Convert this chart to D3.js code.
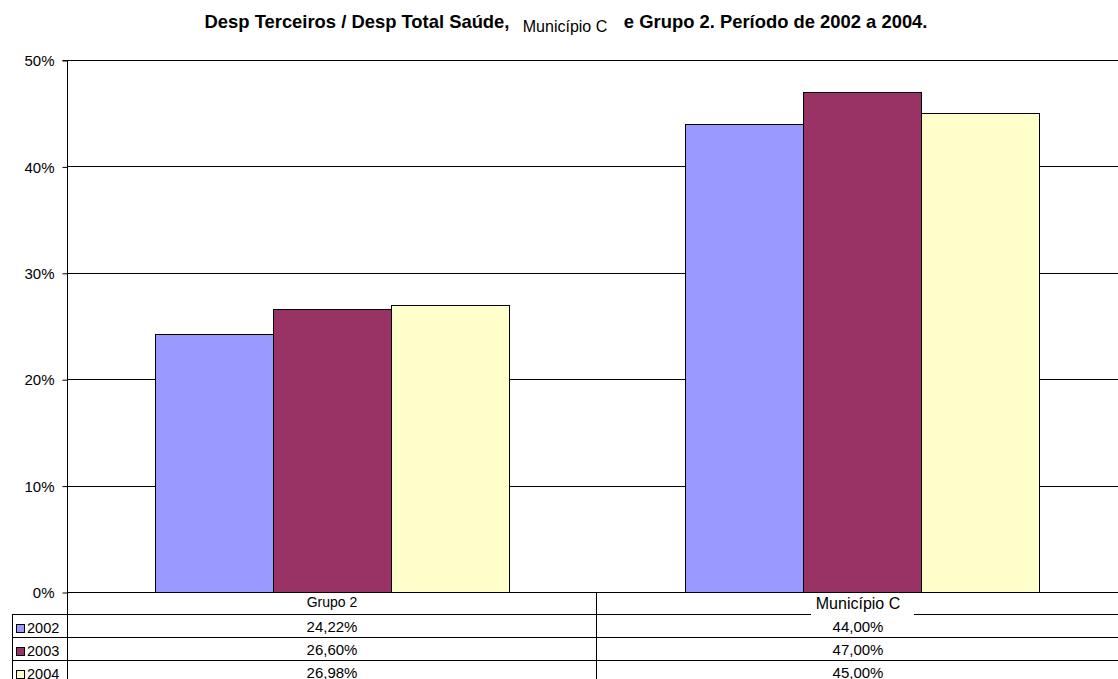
<!DOCTYPE html>
<html>
<head>
<meta charset="utf-8">
<script src="https://cdn.jsdelivr.net/npm/d3@7"></script>
<style>
  body { margin: 0; background: #fff; }
  text { font-family: "Liberation Sans", Arial, sans-serif; }
</style>
</head>
<body>
<div id="plot"></div>
<script>
// data
const categories = ["Grupo 2", "Município C"];
const years = ["2002", "2003", "2004"];
const values2002 = [24.22, 44.00];
const values2003 = [26.60, 47.00];
const values2004 = [26.98, 45.00];
const yTicks = [0, 10, 20, 30, 40, 50];
const colors = ["#9999FF", "#993366", "#FFFFCC"];

const series = [values2002, values2003, values2004];
const fmt = v => v.toFixed(2).replace(".", ",") + "%";

const W = 1118, H = 679;
const plotLeft = 67, plotRight = 1127, plotTop = 60, plotBottom = 592;
const rowH = 23;

const svg = d3.select("#plot").append("svg")
    .attr("width", W)
    .attr("height", H);

// title
svg.append("text")
    .attr("x", 566)
    .attr("y", 28)
    .attr("text-anchor", "middle")
    .attr("font-size", "18.4px")
    .attr("font-weight", "bold")
    .text("Desp Terceiros / Desp Total Saúde, Município C e Grupo 2. Período de 2002 a 2004.");

// stray label sitting over the title
svg.append("rect")
    .attr("x", 515).attr("y", 8)
    .attr("width", 104).attr("height", 28)
    .attr("fill", "#fff");
svg.append("text")
    .attr("x", 565).attr("y", 32)
    .attr("text-anchor", "middle")
    .attr("font-size", "16px")
    .text("Município C");

const x0 = d3.scaleBand().domain(categories).range([plotLeft, plotRight]);
const x1 = d3.scaleBand().domain(years)
    .range([0, x0.bandwidth()])
    .paddingOuter(0.75).paddingInner(0);
const y = d3.scaleLinear().domain([0, 50]).range([plotBottom, plotTop]);

// gridlines
svg.append("g").selectAll("line")
    .data(yTicks.filter(d => d > 0))
    .enter().append("line")
    .attr("x1", plotLeft).attr("x2", W)
    .attr("y1", d => Math.round(y(d)) + 0.5)
    .attr("y2", d => Math.round(y(d)) + 0.5)
    .attr("stroke", "#000")
    .attr("stroke-width", 1);

// bars
categories.forEach((c, i) => {
    svg.append("g").selectAll("rect")
        .data(years)
        .enter().append("rect")
        .attr("x", (yr) => Math.round(x0(c) + x1(yr)) + 0.5)
        .attr("y", (yr, j) => Math.round(y(series[j][i])) + 0.5)
        .attr("width", Math.round(x1.bandwidth()))
        .attr("height", (yr, j) => Math.round(y(0)) - Math.round(y(series[j][i])))
        .attr("fill", (yr, j) => colors[j])
        .attr("stroke", "#000")
        .attr("stroke-width", 1);
});

// y axis
const yAxis = d3.axisLeft(y)
    .tickValues(yTicks)
    .tickSize(5)
    .tickFormat(d => d + "%");
const ax = svg.append("g")
    .attr("transform", `translate(${plotLeft + 0.5},0.5)`)
    .call(yAxis);
ax.select(".domain").attr("d", `M-5,${plotTop}H0V${plotBottom}`).attr("stroke", "#000");
ax.selectAll(".tick line").attr("stroke", "#000");
ax.selectAll(".tick text")
    .attr("font-size", "15px")
    .attr("font-family", "Liberation Sans, Arial, sans-serif")
    .attr("fill", "#000")
    .attr("x", -13)
    .attr("dy", "0.35em");

// data table
const tbl = svg.append("g").attr("stroke", "#000").attr("stroke-width", 1);
tbl.append("line").attr("x1", plotLeft).attr("x2", W)
    .attr("y1", plotBottom + 0.5).attr("y2", plotBottom + 0.5);
years.forEach((yr, j) => {
    const yy = plotBottom + rowH * (j + 1) - 0.5;
    tbl.append("line").attr("x1", 12).attr("x2", W)
        .attr("y1", yy).attr("y2", yy);
});
tbl.append("line").attr("x1", 12.5).attr("x2", 12.5)
    .attr("y1", plotBottom + rowH - 1).attr("y2", H);
tbl.append("line").attr("x1", plotLeft + 0.5).attr("x2", plotLeft + 0.5)
    .attr("y1", plotBottom).attr("y2", H);
tbl.append("line")
    .attr("x1", Math.round(x0(categories[1])) - 0.5)
    .attr("x2", Math.round(x0(categories[1])) - 0.5)
    .attr("y1", plotBottom).attr("y2", H);

// category headers
categories.forEach((c, i) => {
    const cx = x0(c) + x0.bandwidth() / 2 - (i === 1 ? 4 : 0);
    if (i === 1) {
        svg.append("rect")
            .attr("x", 811).attr("y", plotBottom + 6)
            .attr("width", 103).attr("height", 18)
            .attr("fill", "#fff");
    }
    svg.append("text")
        .attr("x", cx)
        .attr("y", plotBottom + (i === 1 ? 17 : 15))
        .attr("text-anchor", "middle")
        .attr("font-size", i === 1 ? "16px" : "14px")
        .text(c);
});

// rows
years.forEach((yr, j) => {
    const ry = plotBottom + rowH * (j + 1);
    svg.append("rect")
        .attr("x", 16.5).attr("y", ry + 9.5)
        .attr("width", 8).attr("height", 8)
        .attr("fill", colors[j])
        .attr("stroke", "#000");
    svg.append("text")
        .attr("x", 27).attr("y", ry + 18)
        .attr("font-size", "14.5px")
        .text(yr);
    categories.forEach((c, i) => {
        svg.append("text")
            .attr("x", x0(c) + x0.bandwidth() / 2 - (i === 1 ? 4 : 0))
            .attr("y", ry + 17)
            .attr("text-anchor", "middle")
            .attr("font-size", "15px")
            .text(fmt(series[j][i]));
    });
});
</script>
</body>
</html>
